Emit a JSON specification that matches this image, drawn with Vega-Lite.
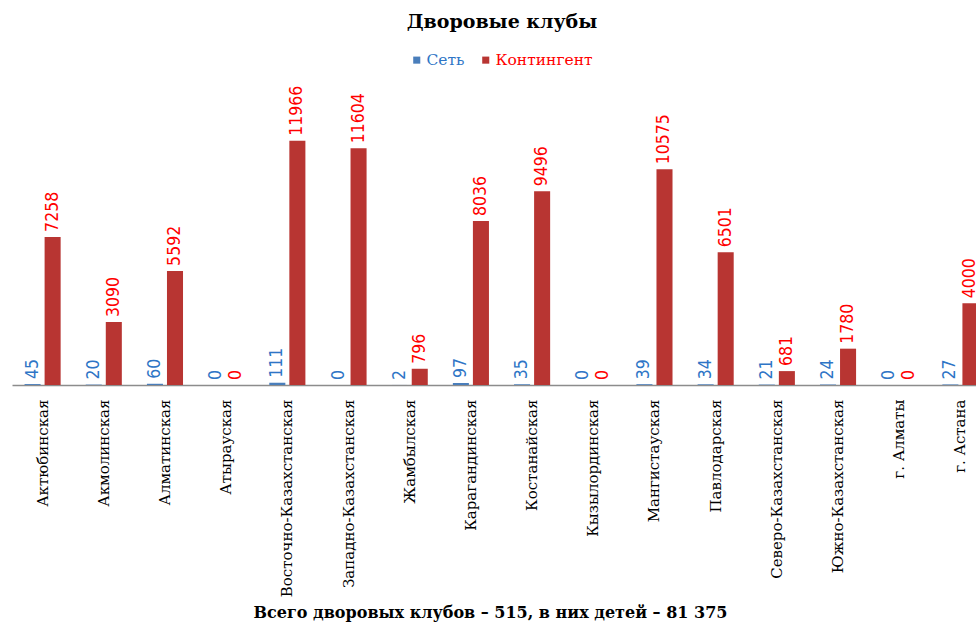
{
  "$schema": "https://vega.github.io/schema/vega-lite/v6.json",
  "width": 964,
  "height": 300,
  "autosize": {"type": "none"},
  "padding": {"left": 12, "top": 85, "right": 0, "bottom": 240},
  "background": "white",
  "title": {
    "text": "Дворовые клубы",
    "font": "DejaVu Serif",
    "fontSize": 19,
    "fontWeight": "bold",
    "color": "#000000",
    "anchor": "middle",
    "frame": "group",
    "offset": 20,
    "dx": 8
  },
  "config": {"view": {"stroke": null}},
  "data": {
    "values": [
      {"region": "Актюбинская", "series": "Сеть", "value": 45},
      {"region": "Актюбинская", "series": "Контингент", "value": 7258},
      {"region": "Акмолинская", "series": "Сеть", "value": 20},
      {"region": "Акмолинская", "series": "Контингент", "value": 3090},
      {"region": "Алматинская", "series": "Сеть", "value": 60},
      {"region": "Алматинская", "series": "Контингент", "value": 5592},
      {"region": "Атырауская", "series": "Сеть", "value": 0},
      {"region": "Атырауская", "series": "Контингент", "value": 0},
      {"region": "Восточно-Казахстанская", "series": "Сеть", "value": 111},
      {"region": "Восточно-Казахстанская", "series": "Контингент", "value": 11966},
      {"region": "Западно-Казахстанская", "series": "Сеть", "value": 0},
      {"region": "Западно-Казахстанская", "series": "Контингент", "value": 11604},
      {"region": "Жамбылская", "series": "Сеть", "value": 2},
      {"region": "Жамбылская", "series": "Контингент", "value": 796},
      {"region": "Карагандинская", "series": "Сеть", "value": 97},
      {"region": "Карагандинская", "series": "Контингент", "value": 8036},
      {"region": "Костанайская", "series": "Сеть", "value": 35},
      {"region": "Костанайская", "series": "Контингент", "value": 9496},
      {"region": "Кызылординская", "series": "Сеть", "value": 0},
      {"region": "Кызылординская", "series": "Контингент", "value": 0},
      {"region": "Мангистауская", "series": "Сеть", "value": 39},
      {"region": "Мангистауская", "series": "Контингент", "value": 10575},
      {"region": "Павлодарская", "series": "Сеть", "value": 34},
      {"region": "Павлодарская", "series": "Контингент", "value": 6501},
      {"region": "Северо-Казахстанская", "series": "Сеть", "value": 21},
      {"region": "Северо-Казахстанская", "series": "Контингент", "value": 681},
      {"region": "Южно-Казахстанская", "series": "Сеть", "value": 24},
      {"region": "Южно-Казахстанская", "series": "Контингент", "value": 1780},
      {"region": "г. Алматы", "series": "Сеть", "value": 0},
      {"region": "г. Алматы", "series": "Контингент", "value": 0},
      {"region": "г. Астана", "series": "Сеть", "value": 27},
      {"region": "г. Астана", "series": "Контингент", "value": 4000}
    ]
  },
  "encoding": {
    "x": {
      "field": "region",
      "type": "nominal",
      "sort": null,
      "scale": {"range": [0, 979], "paddingInner": 0.41, "paddingOuter": 0.205},
      "axis": {
        "title": "Всего дворовых клубов – 515, в них детей – 81 375",
        "titleFont": "DejaVu Serif",
        "titleFontSize": 16,
        "titleFontWeight": "bold",
        "titleColor": "#000000",
        "titleX": 478,
        "titleY": 232,
        "titleAlign": "center",
        "titleBaseline": "alphabetic",
        "labelAngle": -90,
        "labelFont": "DejaVu Serif",
        "labelFontSize": 15,
        "labelColor": "#000000",
        "labelPadding": 14,
        "labelOverlap": false,
        "labelLimit": 0,
        "ticks": false,
        "domainColor": "#8c8c8c",
        "domainWidth": 1.5,
        "grid": false
      }
    },
    "xOffset": {
      "field": "series",
      "type": "nominal",
      "sort": ["Сеть", "Контингент"],
      "scale": {"paddingInner": 0.2, "paddingOuter": 0}
    },
    "y": {
      "field": "value",
      "type": "quantitative",
      "scale": {"domain": [0, 14700], "nice": false},
      "axis": null
    }
  },
  "layer": [
    {
      "mark": {"type": "bar"},
      "encoding": {
        "color": {
          "field": "series",
          "type": "nominal",
          "sort": ["Сеть", "Контингент"],
          "scale": {"domain": ["Сеть", "Контингент"], "range": ["#4a7ebb", "#b83532"]},
          "legend": {
            "title": null,
            "orient": "none",
            "direction": "horizontal",
            "legendX": 397,
            "legendY": -33,
            "symbolType": "square",
            "symbolSize": 50,
            "symbolStrokeWidth": 0,
            "labelFont": "DejaVu Serif",
            "labelFontSize": 15.5,
            "columnPadding": 13,
            "labelOffset": 2,
            "encode": {
              "labels": {
                "update": {
                  "fill": {"signal": "datum.value === 'Сеть' ? '#2e75c6' : '#ff0000'"}
                }
              }
            }
          }
        }
      }
    },
    {
      "mark": {
        "type": "text",
        "angle": 270,
        "align": "left",
        "baseline": "middle",
        "dx": 5,
        "font": "Liberation Sans Narrow, DejaVu Sans Condensed, sans-serif",
        "fontSize": 17.5
      },
      "encoding": {
        "text": {"field": "value", "type": "quantitative", "format": "d"},
        "color": {
          "condition": {"test": "datum.series === 'Сеть'", "value": "#2e75c6"},
          "value": "#ff0000"
        }
      }
    }
  ]
}
